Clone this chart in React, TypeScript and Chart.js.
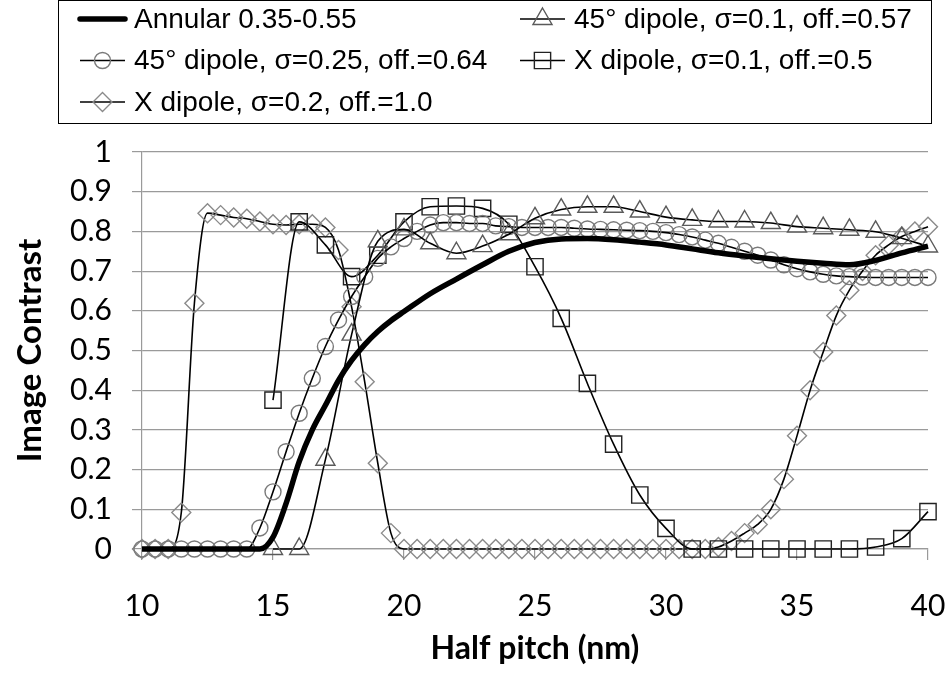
import React, { useEffect, useRef } from 'react';
import { Chart, registerables } from 'chart.js';

Chart.register(...registerables);

// ---------- data ----------
const annularLabel = 'Annular 0.35-0.55';
const triLabel = '45\u00b0 dipole, \u03c3=0.1, off.=0.57';
const circleLabel = '45\u00b0 dipole, \u03c3=0.25, off.=0.64';
const squareLabel = 'X dipole, \u03c3=0.1, off.=0.5';
const diamondLabel = 'X dipole, \u03c3=0.2, off.=1.0';

const annularX = [10, 11, 12, 13, 14, 14.5, 15, 15.5, 16, 16.5, 17, 17.5, 18, 18.5, 19, 19.5, 20, 21, 22, 23, 24, 25, 26, 27, 28, 29, 30, 31, 32, 33, 34, 35, 36, 37, 38, 39, 40];
const annularY = [0, 0, 0, 0, 0, 0, 0.03, 0.115, 0.22, 0.3, 0.362, 0.425, 0.475, 0.515, 0.548, 0.575, 0.598, 0.643, 0.68, 0.716, 0.75, 0.772, 0.781, 0.782, 0.779, 0.773, 0.766, 0.756, 0.746, 0.738, 0.731, 0.725, 0.72, 0.716, 0.727, 0.746, 0.763];

const stepOneX = [15, 16, 17, 18, 19, 20, 21, 22, 23, 24, 25, 26, 27, 28, 29, 30, 31, 32, 33, 34, 35, 36, 37, 38, 39, 40];
const triY = [0, 0, 0.225, 0.54, 0.775, 0.805, 0.77, 0.745, 0.763, 0.793, 0.833, 0.855, 0.862, 0.862, 0.85, 0.836, 0.829, 0.825, 0.825, 0.821, 0.812, 0.808, 0.804, 0.799, 0.783, 0.762];
const squareY = [0.375, 0.824, 0.766, 0.686, 0.74, 0.824, 0.862, 0.864, 0.858, 0.818, 0.711, 0.581, 0.417, 0.264, 0.136, 0.052, 0, 0, 0, 0, 0, 0, 0, 0.005, 0.026, 0.094];

const halfStepX = [10, 10.5, 11, 11.5, 12, 12.5, 13, 13.5, 14, 14.5, 15, 15.5, 16, 16.5, 17, 17.5, 18, 18.5, 19, 19.5, 20, 20.5, 21, 21.5, 22, 22.5, 23, 23.5, 24, 24.5, 25, 25.5, 26, 26.5, 27, 27.5, 28, 28.5, 29, 29.5, 30, 30.5, 31, 31.5, 32, 32.5, 33, 33.5, 34, 34.5, 35, 35.5, 36, 36.5, 37, 37.5, 38, 38.5, 39, 39.5, 40];
const circleY = [0, 0, 0, 0, 0, 0, 0, 0, 0,
  0.053, 0.144, 0.245, 0.342, 0.43, 0.51, 0.577, 0.636, 0.686, 0.732, 0.761, 0.782, 0.8, 0.816, 0.822, 0.822, 0.82, 0.82, 0.814, 0.812, 0.81,
  0.81, 0.81, 0.81, 0.808, 0.806, 0.805, 0.804, 0.803, 0.802, 0.8, 0.797, 0.792, 0.786, 0.778, 0.77, 0.76, 0.75, 0.74, 0.728, 0.716,
  0.706, 0.698, 0.692, 0.688, 0.686, 0.685, 0.684, 0.684, 0.684, 0.684, 0.684];
const diamondY = [0, 0, 0, 0.092, 0.619, 0.846, 0.841, 0.835, 0.832, 0.825, 0.818, 0.816, 0.818, 0.818, 0.81, 0.753, 0.61, 0.421, 0.216, 0.04, 0,
  0, 0, 0, 0, 0, 0, 0, 0, 0, 0, 0, 0, 0, 0, 0, 0, 0, 0, 0, 0, 0, 0, 0,
  0.005, 0.02, 0.04, 0.062, 0.1, 0.176, 0.285, 0.4, 0.496, 0.588, 0.652, 0.7, 0.74, 0.766, 0.787, 0.8, 0.812];

const yTicks = [0, 0.1, 0.2, 0.3, 0.4, 0.5, 0.6, 0.7, 0.8, 0.9, 1];
const xTicks = [10, 15, 20, 25, 30, 35, 40];

const zip = (xs: number[], ys: number[]) => xs.map((x, i) => ({ x, y: ys[i] }));

// ---------- legend plugin ----------
function drawMarker(ctx: CanvasRenderingContext2D, style: string, r: number, x: number, y: number) {
  ctx.beginPath();
  if (style === 'circle') {
    ctx.arc(x, y, r, 0, Math.PI * 2);
  } else if (style === 'triangle') {
    ctx.moveTo(x, y - r);
    ctx.lineTo(x + Math.sin((2 * Math.PI) / 3) * r, y - Math.cos((2 * Math.PI) / 3) * r);
    ctx.lineTo(x + Math.sin((4 * Math.PI) / 3) * r, y - Math.cos((4 * Math.PI) / 3) * r);
    ctx.closePath();
  } else if (style === 'rect') {
    const s = Math.SQRT1_2 * r;
    ctx.rect(x - s, y - s, 2 * s, 2 * s);
  } else if (style === 'rectRot') {
    ctx.moveTo(x - r, y);
    ctx.lineTo(x, y - r);
    ctx.lineTo(x + r, y);
    ctx.lineTo(x, y + r);
    ctx.closePath();
  }
  ctx.stroke();
}

const legendSlots = [
  { col: 0, row: 0 },
  { col: 1, row: 0 },
  { col: 0, row: 1 },
  { col: 1, row: 1 },
  { col: 0, row: 2 },
];

const boxLegend = {
  id: 'boxLegend',
  afterDraw(chart: any) {
    const ctx: CanvasRenderingContext2D = chart.ctx;
    ctx.save();
    ctx.strokeStyle = '#000';
    ctx.lineWidth = 1;
    ctx.strokeRect(58.5, 0.5, 873, 123);
    chart.data.datasets.forEach((ds: any, i: number) => {
      const slot = legendSlots[i];
      const x0 = slot.col === 0 ? 80 : 520;
      const y = 19 + slot.row * 41.5;
      ctx.strokeStyle = '#000';
      ctx.lineWidth = ds.borderWidth;
      ctx.lineCap = ds.borderWidth > 3 ? 'round' : 'butt';
      ctx.beginPath();
      ctx.moveTo(x0, y);
      ctx.lineTo(x0 + 45, y);
      ctx.stroke();
      if (ds.pointRadius > 0) {
        ctx.strokeStyle = ds.pointBorderColor;
        ctx.lineWidth = ds.pointBorderWidth;
        drawMarker(ctx, ds.pointStyle, ds.pointRadius, x0 + 22.5, y);
      }
      ctx.fillStyle = '#000';
      ctx.font = '28px "Liberation Sans", Arial, sans-serif';
      ctx.textBaseline = 'middle';
      ctx.textAlign = 'left';
      ctx.fillText(ds.label, x0 + 54, y + 1);
    });
    ctx.restore();
  },
};

const gridColor = '#9a9a9a';

export default function App() {
  const ref = useRef<HTMLCanvasElement>(null);
  useEffect(() => {
    if (!ref.current) return;
    const common = {
      borderColor: '#000',
      borderWidth: 1.6,
      pointBackgroundColor: 'rgba(0,0,0,0)',
      pointBorderWidth: 1.4,
      cubicInterpolationMode: 'monotone',
      clip: false,
      fill: false,
    };
    const chart = new Chart(ref.current, {
      type: 'line',
      data: {
        datasets: [
          { ...common, label: annularLabel, data: zip(annularX, annularY), borderWidth: 5.5, pointRadius: 0, pointStyle: 'circle', pointBorderColor: '#000', order: 0 },
          { ...common, label: triLabel, data: zip(stepOneX, triY), pointStyle: 'triangle', pointRadius: 11, pointBorderColor: '#5a5a5a', order: 1 },
          { ...common, label: circleLabel, data: zip(halfStepX, circleY), pointStyle: 'circle', pointRadius: 8, pointBorderColor: '#7a7a7a', order: 2 },
          { ...common, label: squareLabel, data: zip(stepOneX, squareY), pointStyle: 'rect', pointRadius: 11.5, pointBorderColor: '#222', order: 3 },
          { ...common, label: diamondLabel, data: zip(halfStepX, diamondY), pointStyle: 'rectRot', pointRadius: 9.5, pointBorderColor: '#8a8a8a', order: 4 },
        ] as any,
      },
      options: {
        animation: false,
        responsive: false,
        maintainAspectRatio: false,
        layout: { padding: { top: 152, right: 23, left: 0, bottom: 0 } },
        plugins: { legend: { display: false }, tooltip: { enabled: false }, title: { display: false } },
        scales: {
          x: {
            type: 'linear',
            min: 10,
            max: 40,
            afterBuildTicks: (s: any) => { s.ticks = xTicks.map((v) => ({ value: v })); },
            afterFit: (s: any) => { s.height = 130; s.paddingLeft = 0; s.paddingRight = 0; },
            ticks: { color: '#000', font: { family: 'Lato', size: 30 }, padding: 28, maxRotation: 0 },
            grid: { display: true, drawOnChartArea: false, drawTicks: true, tickLength: 11, color: gridColor, lineWidth: 1.2 },
            border: { display: true, color: gridColor, width: 1.2 },
            title: { display: true, text: 'Half pitch (nm)', color: '#000', font: { family: 'Lato', size: 32, weight: 'bold' }, padding: { top: 0, bottom: 11 } },
          },
          y: {
            type: 'linear',
            min: 0,
            max: 1,
            afterBuildTicks: (s: any) => { s.ticks = yTicks.map((v) => ({ value: v })); },
            afterFit: (s: any) => { s.width = 142; },
            ticks: { color: '#000', font: { family: 'Lato', size: 30 }, padding: 20, callback: (v: any) => String(Math.round(v * 10) / 10) },
            grid: { display: true, drawTicks: true, tickLength: 10, color: gridColor, lineWidth: 1.2 },
            border: { display: true, color: gridColor, width: 1.2 },
            title: { display: true, text: 'Image Contrast', color: '#000', font: { family: 'Lato', size: 33, weight: 'bold' }, padding: { top: 11, bottom: 0 } },
          },
        },
      } as any,
      plugins: [boxLegend],
    });
    return () => chart.destroy();
  }, []);
  return (
    <div style={{ position: 'absolute', left: 0, top: 0, width: 951, height: 679, background: '#fff' }}>
      <canvas ref={ref} width={951} height={679} style={{ width: 951, height: 679, display: 'block' }} />
    </div>
  );
}
